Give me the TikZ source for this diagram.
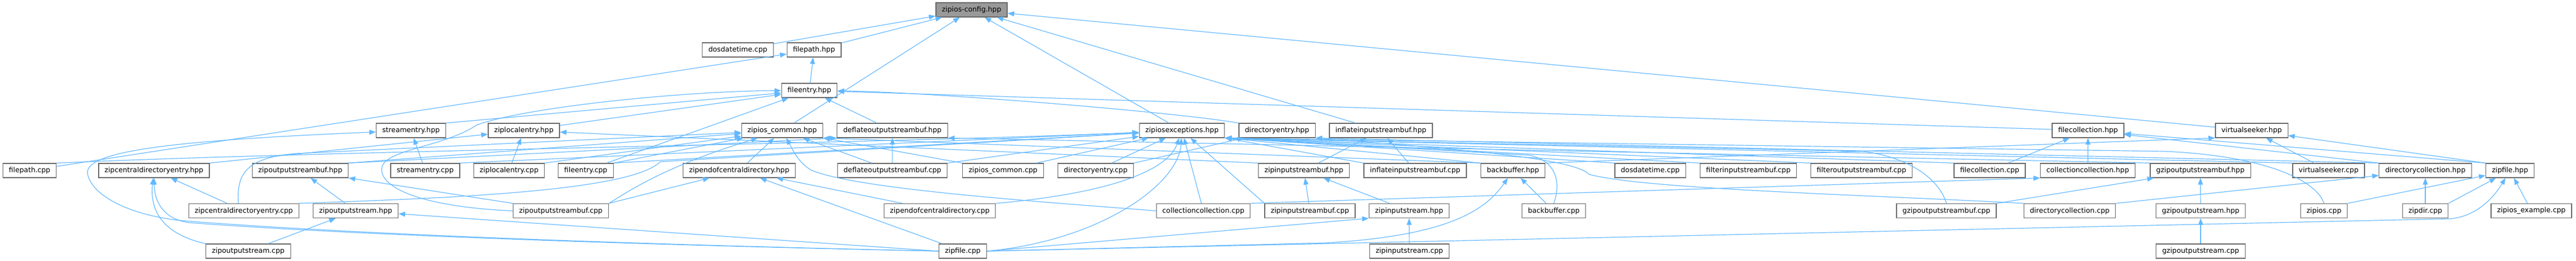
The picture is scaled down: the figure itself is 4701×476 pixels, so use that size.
\documentclass[tikz,border=0pt]{standalone}
\usepackage{fontspec}
\setmainfont{DejaVu Sans}
\usepackage{xcolor}
\usetikzlibrary{arrows.meta}
\definecolor{edgeblue}{HTML}{63B8FF}
\definecolor{boxgray}{HTML}{666666}
\definecolor{rootgray}{HTML}{999999}
\tikzset{
  incbox/.style={draw=boxgray, line width=1.3pt, fill=white, minimum height=26pt, inner xsep=11pt, inner ysep=0pt, font=\fontsize{12.75}{15}\selectfont},
  rootbox/.style={incbox, fill=rootgray},
  incl/.style={edgeblue, line width=1.2pt, -{Triangle[length=12pt,width=9pt]}}
}
\begin{document}
\begin{tikzpicture}[x=1pt,y=-1pt]
\useasboundingbox (0,0) rectangle (4701,476);

\node[rootbox] (cfg) at (1773,18) {zipios-config.hpp};

\node[incbox] (dosdtT) at (1346.5,91) {dosdatetime.cpp};
\node[incbox] (filepathH) at (1485.5,91) {filepath.hpp};

\node[incbox] (fileentryH) at (1477,165) {fileentry.hpp};

\node[incbox] (streamentryH) at (750,238) {streamentry.hpp};
\node[incbox] (ziplocalH) at (956,238) {ziplocalentry.hpp};
\node[incbox] (commonH) at (1427.5,238) {zipios\_common.hpp};
\node[incbox] (deflateH) at (1628.5,238) {deflateoutputstreambuf.hpp};
\node[incbox] (excH) at (2157,238) {zipiosexceptions.hpp};
\node[incbox] (direntryH) at (2330.5,238) {directoryentry.hpp};
\node[incbox] (inflateH) at (2520,238) {inflateinputstreambuf.hpp};
\node[incbox] (filecollH) at (3810.5,238) {filecollection.hpp};
\node[incbox] (vseekH) at (4109,238) {virtualseeker.hpp};

\node[incbox] (filepathC) at (54,311) {filepath.cpp};
\node[incbox] (zcdeH) at (281,311) {zipcentraldirectoryentry.hpp};
\node[incbox] (zosbH) at (548,311) {zipoutputstreambuf.hpp};
\node[incbox] (streamentryC) at (776,311) {streamentry.cpp};
\node[incbox] (ziplocalC) at (929,311) {ziplocalentry.cpp};
\node[incbox] (fileentryC) at (1069,311) {fileentry.cpp};
\node[incbox] (zeocdH) at (1349,311) {zipendofcentraldirectory.hpp};
\node[incbox] (deflateC) at (1628.5,311) {deflateoutputstreambuf.cpp};
\node[incbox] (commonC) at (1830.5,311) {zipios\_common.cpp};
\node[incbox] (direntryC) at (1999.5,311) {directoryentry.cpp};
\node[incbox] (zisbH) at (2379.5,311) {zipinputstreambuf.hpp};
\node[incbox] (inflateC) at (2582.5,311) {inflateinputstreambuf.cpp};
\node[incbox] (backbufH) at (2761,311) {backbuffer.hpp};
\node[incbox] (dosdtC) at (3011.5,311) {dosdatetime.cpp};
\node[incbox] (filterinC) at (3190.5,311) {filterinputstreambuf.cpp};
\node[incbox] (filteroutC) at (3397,311) {filteroutputstreambuf.cpp};
\node[incbox] (filecollC) at (3631,311) {filecollection.cpp};
\node[incbox] (collcollH) at (3810,311) {collectioncollection.hpp};
\node[incbox] (gzosbH) at (4015.5,311) {gzipoutputstreambuf.hpp};
\node[incbox] (vseekC) at (4249.5,311) {virtualseeker.cpp};
\node[incbox] (dircollH) at (4426,311) {directorycollection.hpp};
\node[incbox] (zipfileH) at (4580.5,311) {zipfile.hpp};

\node[incbox] (zcdeC) at (445,384.5) {zipcentraldirectoryentry.cpp};
\node[incbox] (zosH) at (649,384.5) {zipoutputstream.hpp};
\node[incbox] (zosbC) at (1023.5,384.5) {zipoutputstreambuf.cpp};
\node[incbox] (zeocdC) at (1715,384.5) {zipendofcentraldirectory.cpp};
\node[incbox] (collcollC) at (2196,384.5) {collectioncollection.cpp};
\node[incbox] (zisbC) at (2390.5,384.5) {zipinputstreambuf.cpp};
\node[incbox] (zisH) at (2571.5,384.5) {zipinputstream.hpp};
\node[incbox] (backbufC) at (2835.5,384.5) {backbuffer.cpp};
\node[incbox] (gzosbC) at (3552,384.5) {gzipoutputstreambuf.cpp};
\node[incbox] (dircollC) at (3777,384.5) {directorycollection.cpp};
\node[incbox] (gzosH) at (4016,384.5) {gzipoutputstream.hpp};
\node[incbox] (ziposC) at (4241,384.5) {zipios.cpp};
\node[incbox] (zipdirC) at (4426,384.5) {zipdir.cpp};
\node[incbox] (exampleC) at (4619.5,384.5) {zipios\_example.cpp};

\node[incbox] (zosC) at (453,458) {zipoutputstream.cpp};
\node[incbox] (zipfileC) at (1757,458) {zipfile.cpp};
\node[incbox] (zisC) at (2572,458) {zipinputstream.cpp};
\node[incbox] (gzosC) at (4016,458) {gzipoutputstream.cpp};

\draw[incl] (dosdtT) -- (cfg);
\draw[incl] (filepathH) -- (cfg);
\draw[incl] (commonH) -- (cfg);
\draw[incl] (excH) -- (cfg);
\draw[incl] (inflateH) -- (cfg);
\draw[incl] (vseekH) -- (cfg);

\draw[incl] (fileentryH) -- (filepathH);
\draw[incl] (filepathC) -- (filepathH);

\draw[incl] (streamentryH.north east) -- (fileentryH);
\draw[incl] (ziplocalH) -- (fileentryH);
\draw[incl] (fileentryC) -- (fileentryH);
\draw[incl] (deflateH) -- (fileentryH);
\draw[incl] (direntryH.north west) .. controls (2150,205) and (1700,168) .. (fileentryH);
\draw[incl] (filecollH) -- (fileentryH);
\draw[incl] (zosbC.west) .. controls (780,378) and (690,345) .. (697,305) .. controls (705,272) and (810,268) .. (870,228) .. controls (960,195) and (1250,166) .. (fileentryH);

\draw[incl] (streamentryC) -- (streamentryH);
\draw[incl] (zipfileC.west) .. controls (900,440) and (500,416) .. (340,403) .. controls (250,396) and (170,362) .. (160,318) .. controls (150,275) and (320,256) .. (streamentryH);

\draw[incl] (ziplocalC) -- (ziplocalH);
\draw[incl] (zcdeH.north east) -- (ziplocalH);
\draw[incl] (zisbH.north west) -- (ziplocalH);

\draw[incl] (zeocdH) -- (commonH);
\draw[incl] (deflateC) -- (commonH);
\draw[incl] (commonC.north west) -- (commonH.south east);
\draw[incl] (backbufH.north west) -- (commonH.south east);
\draw[incl] (zosbH.north east) -- (commonH);
\draw[incl] (fileentryC.north east) -- (commonH);
\draw[incl] (ziplocalC.north east) -- (commonH);
\draw[incl] ([xshift=-10pt]zcdeC.north) .. controls (432,320) and (445,288) .. (540,280) -- (commonH);
\draw[incl] (zosbC.north east) .. controls (1160,340) and (1225,300) .. (commonH);
\draw[incl] (collcollC.west) .. controls (1900,368) and (1560,345) .. (1480,310) .. controls (1455,295) and (1445,270) .. (commonH);

\draw[incl] (deflateC) -- (deflateH);
\draw[incl] (zosbH.north east) -- (deflateH.south west);
\draw[incl] (gzosbH.north west) -- (deflateH.south east);

\draw[incl] (filepathC.north east) .. controls (600,275) and (1600,262) .. (excH);
\draw[incl] (streamentryC.north east) -- (excH);
\draw[incl] (fileentryC.north east) -- (excH);
\draw[incl] (zcdeC.north east) .. controls (800,362) and (1150,350) .. (1205,295) -- (excH);
\draw[incl] (deflateC.north east) -- (excH);
\draw[incl] (commonC) -- (excH);
\draw[incl] (direntryC) -- (excH);
\draw[incl] (zeocdC.north east) .. controls (2000,355) and (2128,318) .. (excH);
\draw[incl] (zipfileC.east) .. controls (2000,440) and (2150,340) .. (excH);
\draw[incl] (collcollC) -- (excH);
\draw[incl] (zisbC.north west) -- (excH);
\draw[incl] (inflateC.north west) -- (excH.south east);
\draw[incl] (backbufH.north west) -- (excH.south east);
\draw[incl] (dosdtC.north west) -- (excH.south east);
\draw[incl] (filterinC.north west) -- (excH.south east);
\draw[incl] (filteroutC.north west) -- (excH.south east);
\draw[incl] (filecollC.north west) -- (excH.south east);
\draw[incl] (vseekC.north west) -- (excH.south east);
\draw[incl] (backbufC.north) .. controls (2850,330) and (2838,292) .. (2790,283) -- (excH.south east);
\draw[incl] (gzosbC.north) .. controls (3540,330) and (3490,288) .. (3400,276) -- (excH.south east);
\draw[incl] (ziposC.north) .. controls (4230,335) and (4150,285) .. (3950,276) -- (excH.south east);

\draw[incl] (direntryC.north east) -- (direntryH);
\draw[incl] (dircollH.north west) -- (direntryH.south east);
\draw[incl] (dircollC.north west) .. controls (3400,355) and (3000,345) .. (2900,318) .. controls (2870,285) and (2600,268) .. (direntryH.south east);

\draw[incl] (inflateC) -- (inflateH);
\draw[incl] (zisbH) -- (inflateH);

\draw[incl] (zisbC) -- (zisbH);
\draw[incl] (zisH) -- (zisbH);
\draw[incl] (zisC) -- (zisH);
\draw[incl] (zipfileC.east) -- (zisH.south west);

\draw[incl] (backbufC) -- (backbufH);
\draw[incl] (zipfileC.east) -- (2420,443) .. controls (2640,430) and (2710,385) .. (backbufH);

\draw[incl] (zcdeC) -- (zcdeH);
\draw[incl] (zosC.north west) .. controls (310,430) and (272,395) .. (zcdeH);
\draw[incl] (zipfileC.west) .. controls (900,441) and (500,418) .. (345,406) .. controls (300,400) and (282,370) .. (zcdeH);

\draw[incl] (zosH) -- (zosbH);
\draw[incl] (zosbC.north west) -- (zosbH);
\draw[incl] (zosC) -- (zosH);
\draw[incl] (zipfileC.west) -- (zosH);

\draw[incl] (zosbC.north east) -- (zeocdH);
\draw[incl] (zipfileC) -- (zeocdH);
\draw[incl] (zeocdC) -- (zeocdH);

\draw[incl] (vseekC) -- (vseekH);
\draw[incl] (zipfileH.north west) -- (vseekH);
\draw[incl] (backbufH.north east) -- (vseekH.south west);

\draw[incl] (filecollC) -- (filecollH);
\draw[incl] (collcollH) -- (filecollH);
\draw[incl] (dircollH.north west) -- (filecollH);
\draw[incl] (zipfileH.north west) -- (filecollH);

\draw[incl] (collcollC.north east) -- (collcollH.south west);
\draw[incl] (gzosbC.north east) -- (gzosbH);
\draw[incl] (gzosH) -- (gzosbH);
\draw[incl] (gzosC) -- (gzosH);

\draw[incl] (dircollC.north east) -- (dircollH);
\draw[incl] (zipdirC) -- (dircollH);

\draw[incl] (ziposC.north east) -- (zipfileH);
\draw[incl] (zipdirC.north east) -- (zipfileH);
\draw[incl] (exampleC) -- (zipfileH);
\draw[incl] (zipfileC.east) -- (4470,399) .. controls (4515,396) and (4548,365) .. (zipfileH);
\end{tikzpicture}
\end{document}
